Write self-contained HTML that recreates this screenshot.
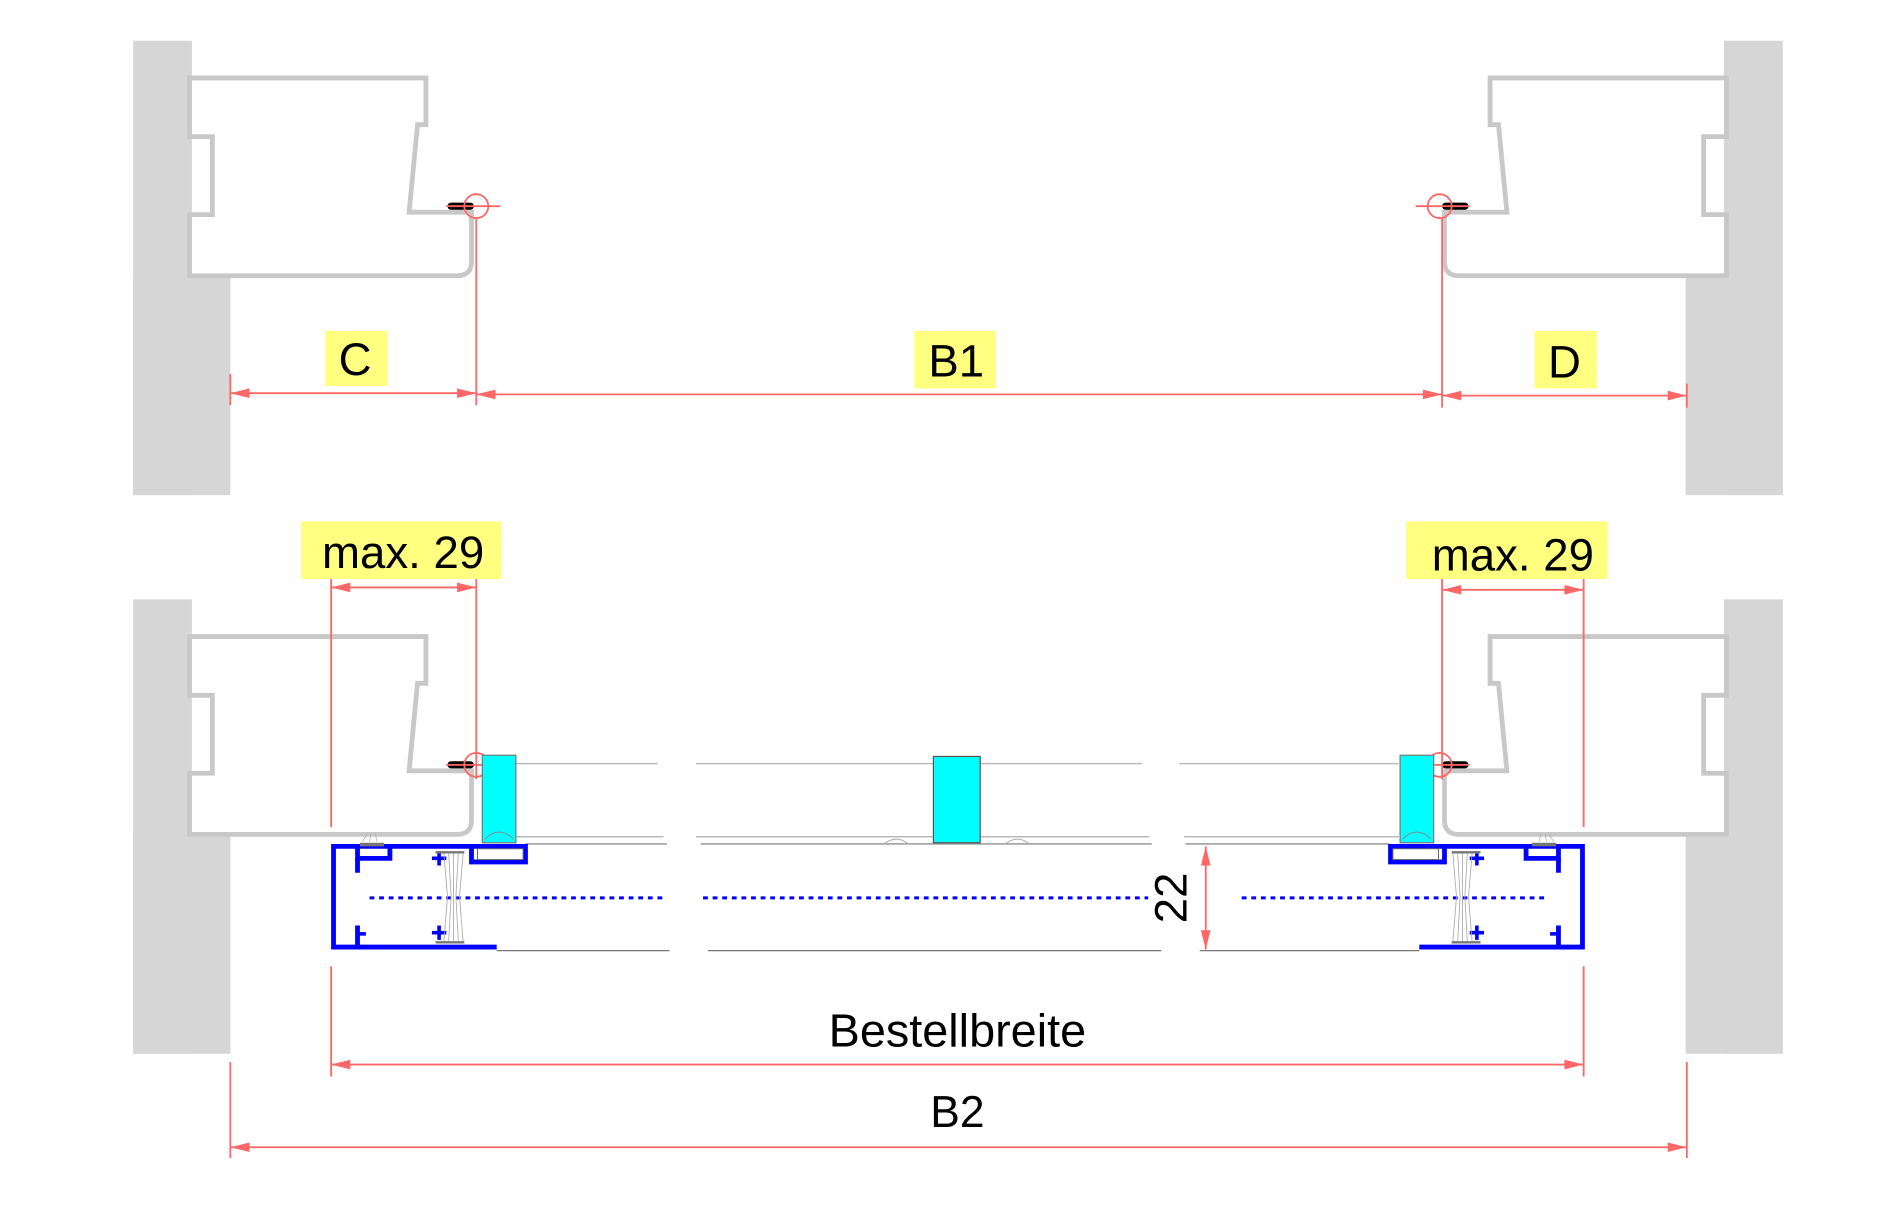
<!DOCTYPE html>
<html><head><meta charset="utf-8"><style>html,body{margin:0;padding:0;background:#fff}svg{display:block}</style></head>
<body>
<svg width="1880" height="1206" viewBox="0 0 1567 1006" preserveAspectRatio="none" xmlns="http://www.w3.org/2000/svg" font-family="Liberation Sans, sans-serif">
<defs>
<g id="frame">
  <rect x="111" y="34" width="49" height="379" fill="#d6d6d6"/>
  <rect x="111" y="230" width="81" height="183" fill="#d6d6d6"/>
  <path d="M158,65 H355 V104 H348 L341,177 H393 V218 Q393,230 381,230 H158 V179 H177 V114 H158 Z" fill="#fff" stroke="#c8c8c8" stroke-width="4"/>
  <line x1="376" y1="172" x2="392" y2="172" stroke="#000" stroke-width="6" stroke-linecap="round"/>
  <circle cx="397" cy="172" r="10" fill="none" stroke="#ff6666" stroke-width="1.5"/>
  <line x1="372" y1="172" x2="417" y2="172" stroke="#ff6666" stroke-width="1.5"/>
</g>
<g id="profile">
  <rect x="402" y="630" width="28" height="73" fill="#00ffff" stroke="#777" stroke-width="1"/>
  <path d="M404,700 Q416,688 428,700" fill="none" stroke="#888" stroke-width="0.8"/>
  <path d="M414,790 H278 V706 H438 V719 H393 V706" fill="none" stroke="#0000ff" stroke-width="4"/>
  <path d="M298,706 V716 H325 V706" fill="none" stroke="#0000ff" stroke-width="4"/>
  <line x1="298" y1="716" x2="298" y2="728" stroke="#0000ff" stroke-width="4"/>
  <line x1="298" y1="772" x2="298" y2="790" stroke="#0000ff" stroke-width="4"/>
  <line x1="298" y1="779" x2="305" y2="779" stroke="#0000ff" stroke-width="3"/>
  <path d="M360,716 H372 M366,710 V722 M360,778 H372 M366,772 V784" stroke="#0000ff" stroke-width="3"/>
  <rect x="398" y="708" width="38" height="9" fill="#fff" stroke="#666" stroke-width="0.8"/>
  <line x1="363" y1="711" x2="387" y2="711" stroke="#777" stroke-width="2"/>
  <line x1="363" y1="786" x2="387" y2="786" stroke="#777" stroke-width="2"/>
  <path d="M370,712 L373,748 L370,785 M374,712 L376,748 L374,785 M378,712 L378,785 M382,712 L380,748 L382,785 M386,712 L383,748 L386,785" stroke="#aaa" stroke-width="0.7" fill="none"/>
  <rect x="300" y="703" width="20" height="3" fill="#777"/>
  <path d="M302,702 L306,696 M308,702 L309,696 M314,702 L313,696" stroke="#aaa" stroke-width="0.6"/>
</g>
<path id="ar" d="M0,0 L-16,-4 L-16,4 Z" fill="#ff6666"/>
</defs>

<use href="#frame"/>
<use href="#frame" transform="matrix(-1,0,0,1,1597,0)"/>
<g transform="translate(0,466)">
  <use href="#frame"/>
  <use href="#frame" transform="matrix(-1,0,0,1,1597,0)"/>
</g>

<g stroke="#bbb" stroke-width="1.2">
  <line x1="430" y1="637" x2="548" y2="637"/><line x1="580" y1="637" x2="952" y2="637"/><line x1="983" y1="637" x2="1166" y2="637"/>
  <line x1="430" y1="698" x2="553" y2="698"/><line x1="580" y1="698" x2="958" y2="698"/><line x1="987" y1="698" x2="1166" y2="698"/>
</g>
<g stroke="#777" stroke-width="1">
  <line x1="438" y1="704" x2="556" y2="704"/><line x1="584" y1="704" x2="960" y2="704"/><line x1="988" y1="704" x2="1158" y2="704"/>
  <line x1="414" y1="793" x2="558" y2="793"/><line x1="590" y1="793" x2="968" y2="793"/><line x1="1000" y1="793" x2="1183" y2="793"/>
</g>
<rect x="778" y="631" width="39" height="72" fill="#00ffff" stroke="#555" stroke-width="1"/>
<path d="M737,704 Q747,696 757,704 M838,704 Q848,696 858,704" fill="none" stroke="#aaa" stroke-width="0.8"/>
<g stroke="#0000ff" stroke-width="2.5" stroke-dasharray="4,4">
  <line x1="308" y1="749" x2="555" y2="749"/><line x1="586" y1="749" x2="957" y2="749"/><line x1="1035" y1="749" x2="1290" y2="749"/>
</g>
<use href="#profile"/>
<use href="#profile" transform="matrix(-1,0,0,1,1597,0)"/>

<g stroke="#ff6666" stroke-width="1.5">
  <line x1="192" y1="312" x2="192" y2="338"/>
  <line x1="397" y1="182" x2="397" y2="338"/>
  <line x1="1202" y1="182" x2="1202" y2="340"/>
  <line x1="1406" y1="320" x2="1406" y2="340"/>
  <line x1="192" y1="328" x2="397" y2="328"/>
  <line x1="397" y1="329" x2="1202" y2="329"/>
  <line x1="1202" y1="330" x2="1406" y2="330"/>
  <line x1="276" y1="480" x2="276" y2="690"/>
  <line x1="397" y1="478" x2="397" y2="650"/>
  <line x1="276" y1="490" x2="397" y2="490"/>
  <line x1="1202" y1="478" x2="1202" y2="650"/>
  <line x1="1320" y1="480" x2="1320" y2="690"/>
  <line x1="1202" y1="492" x2="1320" y2="492"/>
  <line x1="1005" y1="706" x2="1005" y2="792"/>
  <line x1="276" y1="806" x2="276" y2="898"/>
  <line x1="1320" y1="806" x2="1320" y2="898"/>
  <line x1="276" y1="888" x2="1320" y2="888"/>
  <line x1="192" y1="886" x2="192" y2="966"/>
  <line x1="1406" y1="886" x2="1406" y2="966"/>
  <line x1="192" y1="957" x2="1406" y2="957"/>
</g>
<g>
  <use href="#ar" transform="translate(192,328) rotate(180)"/><use href="#ar" transform="translate(397,328)"/>
  <use href="#ar" transform="translate(397,329) rotate(180)"/><use href="#ar" transform="translate(1202,329)"/>
  <use href="#ar" transform="translate(1202,330) rotate(180)"/><use href="#ar" transform="translate(1406,330)"/>
  <use href="#ar" transform="translate(276,490) rotate(180)"/><use href="#ar" transform="translate(397,490)"/>
  <use href="#ar" transform="translate(1202,492) rotate(180)"/><use href="#ar" transform="translate(1320,492)"/>
  <use href="#ar" transform="translate(1005,706) rotate(-90)"/><use href="#ar" transform="translate(1005,792) rotate(90)"/>
  <use href="#ar" transform="translate(276,888) rotate(180)"/><use href="#ar" transform="translate(1320,888)"/>
  <use href="#ar" transform="translate(192,957) rotate(180)"/><use href="#ar" transform="translate(1406,957)"/>
</g>

<g fill="#ffff80">
  <rect x="271" y="276" width="52" height="46"/>
  <rect x="762" y="276" width="68" height="48"/>
  <rect x="1279" y="276" width="52" height="48"/>
  <rect x="251" y="435" width="167" height="48"/>
  <rect x="1172" y="435" width="168" height="48"/>
</g>
<g font-size="38" fill="#000" text-anchor="middle">
  <text x="296" y="313">C</text>
  <text x="797" y="314">B1</text>
  <text x="1304" y="315">D</text>
  <text x="336" y="474">max. 29</text>
  <text x="1261" y="476">max. 29</text>
  <text x="798" y="873" font-size="39">Bestellbreite</text>
  <text x="798" y="940" font-size="37">B2</text>
  <text transform="translate(989,749) rotate(-90)" font-size="38">22</text>
</g>
</svg>
</body></html>
